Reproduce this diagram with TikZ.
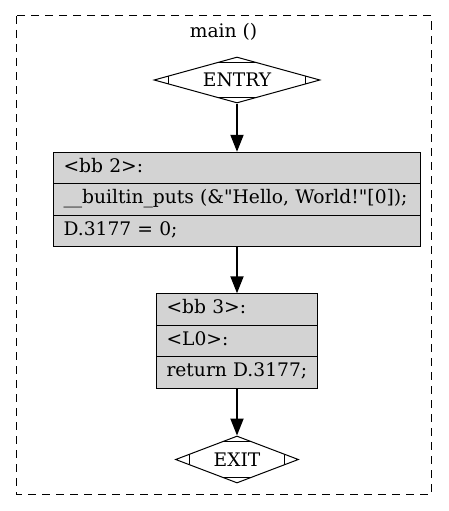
\documentclass[tikz,border=0pt]{standalone}
\usepackage{fontspec}
\setmainfont{DejaVu Serif}
\usetikzlibrary{shapes.geometric,shapes.multipart,arrows.meta}
\definecolor{bbgray}{HTML}{D3D3D3}
\tikzset{
  cfgfont/.style={font=\fontsize{18.67}{20.5}\selectfont},
  % diamond with the small marks at its corners
  mdiamond/.style={diamond,draw,line width=1pt,cfgfont,inner sep=0pt,
    path picture={
      \draw[line width=1pt]([yshift=-5pt]path picture bounding box.north west) -- ([yshift=-5pt]path picture bounding box.north east);
      \draw[line width=1pt]([yshift=5pt]path picture bounding box.south west) -- ([yshift=5pt]path picture bounding box.south east);
      \draw[line width=1pt]([xshift=14pt]path picture bounding box.south west) -- ([xshift=14pt]path picture bounding box.north west);
      \draw[line width=1pt]([xshift=-14pt]path picture bounding box.south east) -- ([xshift=-14pt]path picture bounding box.north east);
    }},
  bbrecord/.style={rectangle split,rectangle split parts=3,draw,line width=1pt,
    fill=bbgray,cfgfont,inner xsep=10pt,inner ysep=5pt,align=left},
  cfgedge/.style={line width=2pt,-{Triangle[length=17pt,width=13pt]}}
}
\begin{document}
\begin{tikzpicture}[x=1pt,y=-1pt]
  \useasboundingbox (0,0) rectangle (448,511);
  % cluster
  \draw [line width=1pt,dash pattern=on 8pt off 6pt](16,16) rectangle (431.5,494);
  \node at(223.5,32)(title)[cfgfont]{main ()};
  % entry
  \node at(237,80)(entry)[mdiamond,shape aspect=3.6,minimum width=166pt,minimum height=46pt]{ENTRY};
  % bb 2
  \node at(237,199.5)(bbtwo)[bbrecord,text width=347pt]{\strut<bb 2>:
    \nodepart{two}\strut\_\_builtin\_puts (\&\textquotedbl Hello, World!\textquotedbl[0]);
    \nodepart{three}\strut D.3177 = 0;};
  % bb 3
  \node at(237,341)(bbthree)[bbrecord,text width=141pt]{\strut<bb 3>:
    \nodepart{two}\strut<L0>:
    \nodepart{three}\strut return D.3177;};
  % exit
  \node at(237,459.5)(exit)[mdiamond,shape aspect=2.6,minimum width=123pt,minimum height=47pt]{EXIT};
  % edges
  \draw [cfgedge](entry.south) -- (bbtwo.north);
  \draw [cfgedge](bbtwo.south) -- (bbthree.north);
  \draw [cfgedge](bbthree.south) -- (exit.north);
\end{tikzpicture}
\end{document}
